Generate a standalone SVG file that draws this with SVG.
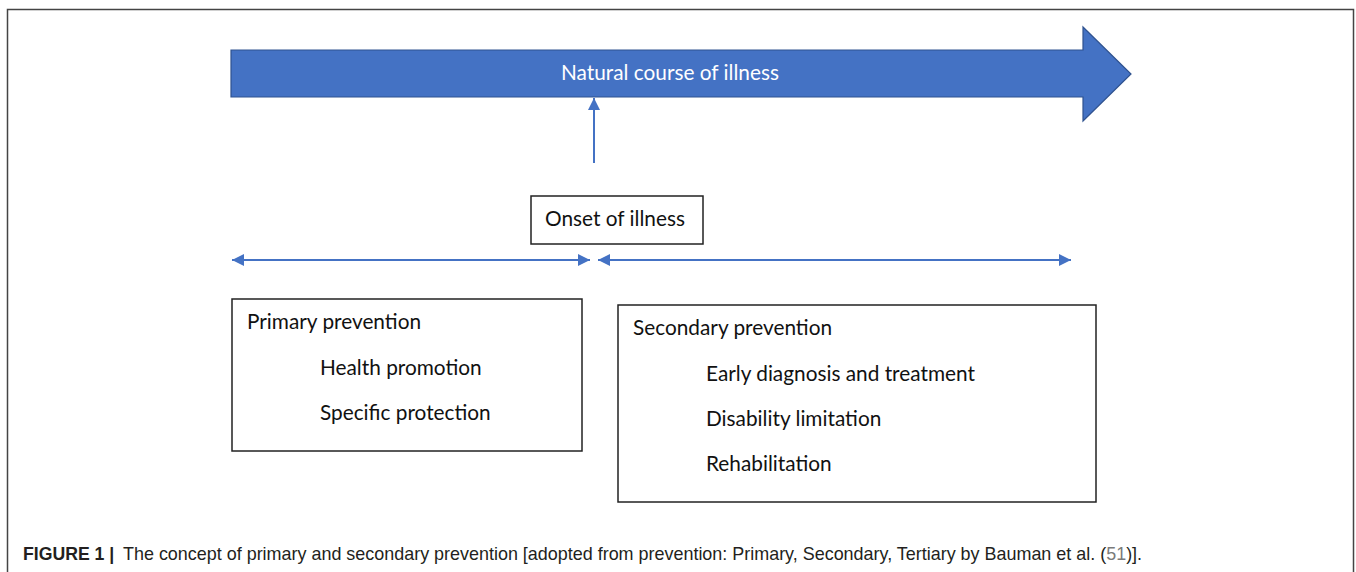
<svg xmlns="http://www.w3.org/2000/svg" width="1356" height="572" viewBox="0 0 1356 572">
<defs>
<style>
.lbl{font-family:Lato,"Noto Sans",sans-serif;font-size:20.8px;fill:#111}
.box{fill:#fff;stroke:#222;stroke-width:1.5}
.conn{stroke:#4472C4;stroke-width:2;fill:none}
.cap{font-family:"Liberation Sans",Arial,sans-serif;font-size:19px;fill:#231f20}
</style>
<marker id="ah" viewBox="0 0 12 12" refX="12" refY="6" markerWidth="12" markerHeight="12" markerUnits="userSpaceOnUse" orient="auto-start-reverse">
<path d="M0,0 L12,6 L0,12 Z" fill="#4472C4"/>
</marker>
</defs>
<rect x="0" y="0" width="1356" height="572" fill="#fff"/>
<path d="M7.5,600 L7.5,9.5 L1353.5,9.5 L1353.5,600" fill="none" stroke="#444" stroke-width="1.5"/>
<g id="course">
<path d="M231,50 L1083,50 L1083,27 L1131,74 L1083,121 L1083,97 L231,97 Z" fill="#4472C4" stroke="#2F528F" stroke-width="1.2"/>
<text x="670" y="80" text-anchor="middle" class="lbl" style="fill:#fff">Natural course of illness</text>
</g>
<g id="onset">
<rect x="531" y="196" width="172" height="48" class="box"/>
<text x="615" y="226" text-anchor="middle" class="lbl">Onset of illness</text>
</g>
<g id="primary">
<rect x="232" y="299" width="350" height="152" class="box"/>
<text x="247" y="329" class="lbl">Primary prevention</text>
<text x="320" y="375" class="lbl">Health promotion</text>
<text x="320" y="420" class="lbl">Specific protection</text>
</g>
<g id="secondary">
<rect x="618" y="305" width="478" height="197" class="box"/>
<text x="633" y="335" class="lbl">Secondary prevention</text>
<text x="706" y="381" class="lbl">Early diagnosis and treatment</text>
<text x="706" y="426" class="lbl">Disability limitation</text>
<text x="706" y="471" class="lbl">Rehabilitation</text>
</g>
<g id="connectors">
<line x1="594" y1="163" x2="594" y2="98" class="conn" marker-end="url(#ah)"/>
<line x1="232" y1="260" x2="590" y2="260" class="conn" marker-start="url(#ah)" marker-end="url(#ah)"/>
<line x1="598" y1="260" x2="1071" y2="260" class="conn" marker-start="url(#ah)" marker-end="url(#ah)"/>
</g>
<g id="caption">
<text x="0" y="0" transform="translate(23,560) scale(0.93,1)" class="cap" font-weight="bold">FIGURE 1 |</text>
<text x="0" y="0" transform="translate(123,560) scale(0.945,1)" class="cap">The concept of primary and secondary prevention [adopted from prevention: Primary, Secondary, Tertiary by Bauman et al. (<tspan style="fill:#7a7a7a">51</tspan>)].</text>
</g>
</svg>
